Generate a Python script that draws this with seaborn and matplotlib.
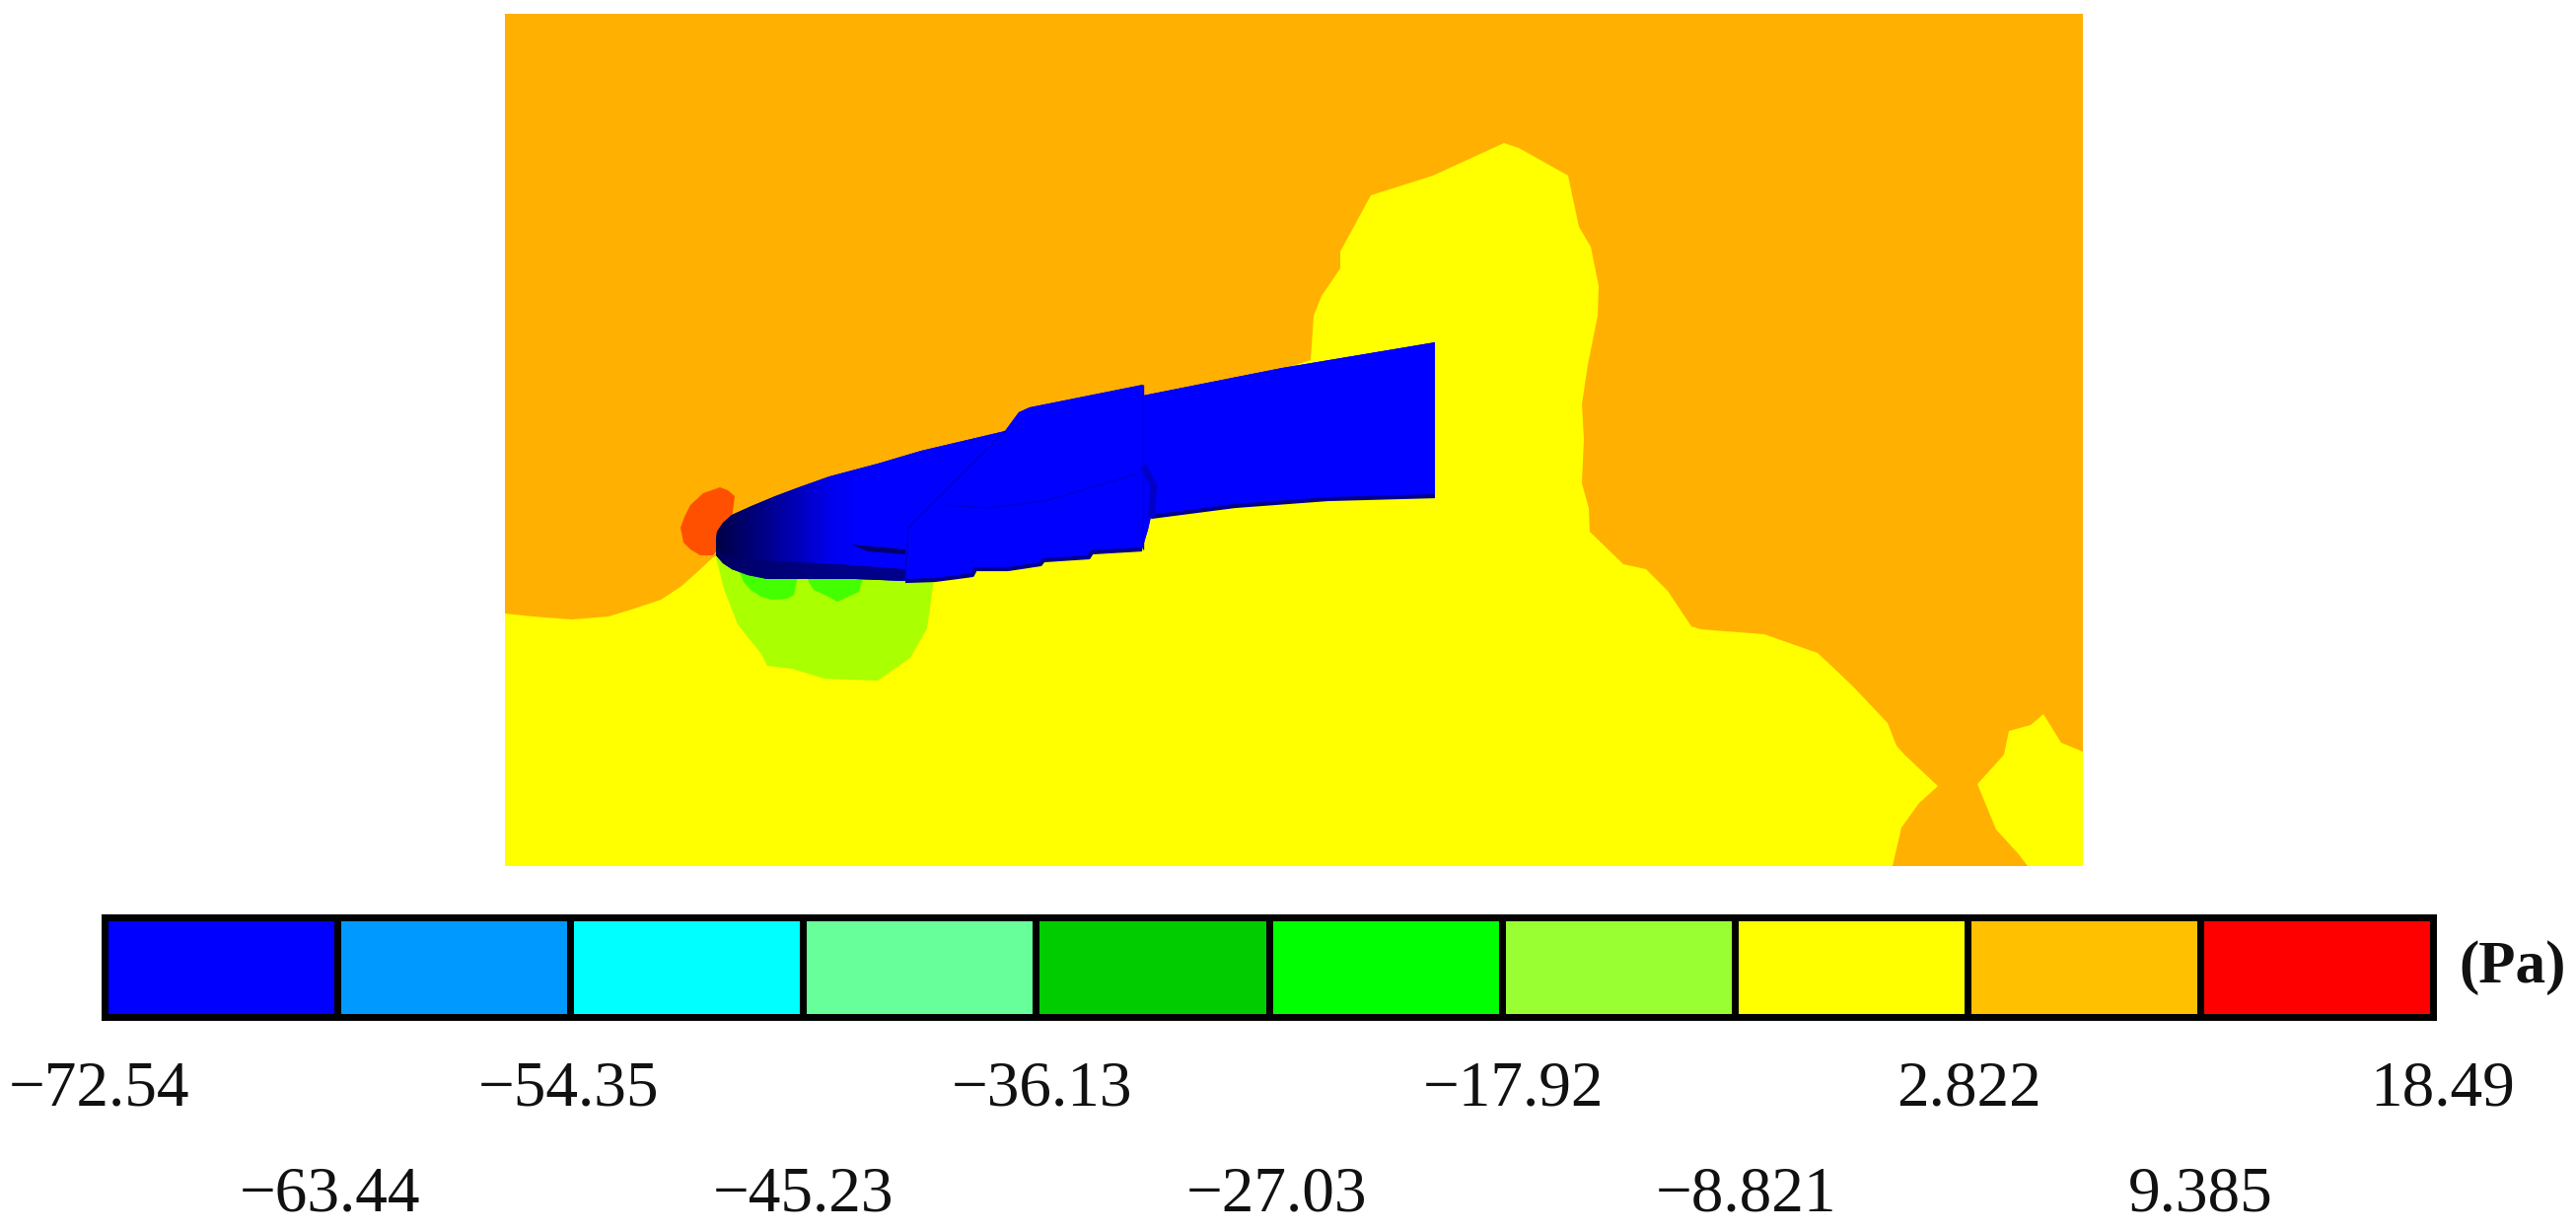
import numpy as np
import matplotlib
matplotlib.use('Agg')
import matplotlib.pyplot as plt
import seaborn as sns
from matplotlib.colors import ListedColormap, BoundaryNorm, LinearSegmentedColormap
from matplotlib.patches import Polygon
from matplotlib.transforms import Affine2D

# band edges of the colour scale (Pa)
band_edges = [-72.54, -63.44, -54.35, -45.23, -36.13, -27.03, -17.92, -8.821, 2.822, 9.385, 18.49]
band_labels = ['\u221272.54', '\u221263.44', '\u221254.35', '\u221245.23', '\u221236.13', '\u221227.03',
               '\u221217.92', '\u22128.821', '2.822', '9.385', '18.49']
band_colors = ['#0000FF', '#0099FF', '#00FFFF', '#66FF99', '#00CC00', '#00FF00',
               '#99FF33', '#FFFF00', '#FFC000', '#FF0000']

# contour outlines
yellow_main = [(512, 622), (540, 625), (580, 628), (617, 625), (640, 618), (670, 608), (690, 595), (707, 580),
               (723, 565), (1329, 365), (1332, 320), (1340, 300), (1359, 272), (1359, 255), (1390, 198),
               (1453, 178), (1525, 145), (1540, 150), (1590, 178), (1601, 230), (1613, 250), (1621, 290),
               (1620, 320), (1610, 370), (1604, 410), (1606, 445), (1604, 490), (1611, 515), (1612, 539),
               (1646, 572), (1669, 577), (1691, 599), (1715, 635), (1725, 638), (1789, 643), (1843, 662),
               (1857, 675), (1879, 696), (1914, 733), (1923, 756), (1931, 765), (1965, 797), (1946, 814),
               (1928, 839), (1919, 878), (512, 878)]
yellow_right = [(2005, 795), (2032, 765), (2037, 741), (2059, 735), (2072, 724), (2090, 753), (2112, 762),
                (2112, 878), (2056, 878), (2046, 865), (2024, 841)]
lime_zone = [(726, 565), (734, 597), (748, 633), (759, 647), (772, 663), (778, 675), (803, 678), (836, 688),
             (890, 690), (923, 667), (940, 637), (948, 580), (800, 560)]
green_left = [(748, 575), (754, 590), (761, 598), (772, 605), (783, 608), (798, 607), (805, 603), (811, 575)]
green_right = [(816, 575), (820, 590), (825, 598), (838, 604), (849, 610), (862, 604), (871, 600), (878, 575)]
red_blob = [(745, 503), (738, 497), (730, 494), (713, 500), (700, 512), (694, 524), (690, 535), (693, 550),
            (700, 557), (710, 563), (723, 563), (740, 540)]
car_body = [(726, 547), (726, 563), (733, 571), (742, 577), (758, 583), (778, 587), (868, 587), (918, 589), (948, 588),
            (986, 583), (989, 577), (1022, 577), (1055, 572), (1058, 568), (1104, 565), (1107, 560), (1158, 557),
            (1164, 537), (1167, 524), (1252, 513), (1346, 506), (1455, 503), (1455, 347), (1300, 373), (1159, 401),
            (1159, 390), (1044, 413), (1033, 418), (1019, 437), (934, 457), (890, 470), (841, 483), (810, 494),
            (786, 503), (762, 513), (742, 522), (733, 530), (727, 539)]
nose_shadow = [(726, 560), (748, 567), (852, 572), (918, 577), (918, 589), (868, 587), (778, 587), (742, 577)]
nose_slit = [(863, 552), (918, 557), (918, 562), (880, 559)]
car_underline = [(918, 589), (948, 588), (986, 583), (989, 577), (1022, 577), (1055, 572), (1058, 568),
                 (1104, 565), (1107, 560), (1158, 557)]
rear_underline = [(1167, 524), (1252, 513), (1346, 506), (1455, 503)]
door_edge = [(1019, 437), (921, 535), (918, 589)]
window_line = [(959, 512), (1000, 515), (1060, 508), (1154, 480)]
bulge_line = [(1159, 472), (1170, 493), (1167, 524)]
joint_line = [(1159, 390), (1159, 557)]

# horizontal nudge of each colour scale label from its band edge, pixels
label_shift = [-6, -8, -2, 0, 6, 8, 12, 12, 2, 0, 10]

field_colors = {'orange': '#FFB000', 'yellow': '#FFFF00', 'lime': '#AAFF00', 'green': '#44FF00', 'red': '#FF5000'}

W, H = 2612, 1248
sns.set_theme(style='white')
plt.rcParams['font.family'] = ['Liberation Serif', 'DejaVu Serif']
fig = plt.figure(figsize=(W / 100, H / 100), dpi=100, facecolor='white')


def px_axes(x0, y0, x1, y1):
    return fig.add_axes([x0 / W, 1 - y1 / H, (x1 - x0) / W, (y1 - y0) / H])


# pressure field
ax = px_axes(512, 14, 2112, 878)
ax.set_axis_off()
ax.add_patch(Polygon([(512, 14), (2112, 14), (2112, 878), (512, 878)], fc=field_colors['orange'], lw=0))
ax.add_patch(Polygon(yellow_main, fc=field_colors['yellow'], lw=0))
ax.add_patch(Polygon(yellow_right, fc=field_colors['yellow'], lw=0))
ax.add_patch(Polygon(lime_zone, fc=field_colors['lime'], lw=0))
ax.add_patch(Polygon(green_left, fc=field_colors['green'], lw=0))
ax.add_patch(Polygon(green_right, fc=field_colors['green'], lw=0))
ax.add_patch(Polygon(red_blob, fc=field_colors['red'], lw=0))

# train, dark nose fading into the blue body
shade = LinearSegmentedColormap.from_list('nose', [(0, '#00004A'), (0.05, '#000078'), (0.16, '#0000F0'),
                                                   (0.2, '#0000FF'), (1, '#0000FF')])
car = Polygon(car_body, fc='#0000FF', lw=0)
ax.add_patch(car)
img = ax.imshow(np.linspace(0, 1, 400)[None, :], cmap=shade, extent=(726, 1455, 589, 347), aspect='auto',
                interpolation='bilinear', zorder=1.5)
img.set_clip_path(car)
ax.set_xlim(512, 2112)
ax.set_ylim(878, 14)
ax.add_patch(Polygon(nose_shadow, fc='#00006E', lw=0, alpha=0.8, zorder=2))
ax.add_patch(Polygon(nose_slit, fc='#00006E', lw=0, zorder=2))
for line, color, lw in [(car_underline, '#000090', 3), (rear_underline, '#000090', 3), (door_edge, '#0000C8', 1),
                        (window_line, '#0000D0', 1), (bulge_line, '#0000C8', 5), (joint_line, '#0000D8', 1)]:
    ax.plot(*zip(*line), color=color, lw=lw, solid_capstyle='butt', zorder=3)

# colour scale
cax = px_axes(106, 929.5, 2467, 1030.5)
mids = [(a + b) / 2 for a, b in zip(band_edges[:-1], band_edges[1:])]
sns.heatmap([mids], ax=cax, cmap=ListedColormap(band_colors), norm=BoundaryNorm(band_edges, len(band_colors)),
            cbar=False, linewidths=5, linecolor='black', xticklabels=False, yticklabels=False)
for s in cax.spines.values():
    s.set_visible(True)
    s.set_color('black')
    s.set_linewidth(5)
cax.set_xticks(range(0, 11, 2))
cax.set_xticklabels(band_labels[0::2], fontsize=47, color='#111111')
cax.set_xticks(range(1, 10, 2), minor=True)
cax.set_xticklabels(band_labels[1::2], minor=True, fontsize=47, color='#111111')
cax.tick_params(axis='x', which='major', length=0, pad=32, rotation=0)
cax.tick_params(axis='x', which='minor', length=0, pad=109, rotation=0)
fig.canvas.draw()
major = cax.xaxis.get_major_ticks()
minor = cax.xaxis.get_minor_ticks()
for i, tick in enumerate(major):
    tick.label1.set_transform(tick.label1.get_transform() + Affine2D().translate(label_shift[2 * i], 0))
for i, tick in enumerate(minor):
    tick.label1.set_transform(tick.label1.get_transform() + Affine2D().translate(label_shift[2 * i + 1], 0))

fig.text(2548 / W, 1 - 981 / H, '(Pa)', fontsize=44, fontweight='bold', ha='center', va='center', color='#111111')

fig.savefig('out.png', dpi=100, facecolor='white')
